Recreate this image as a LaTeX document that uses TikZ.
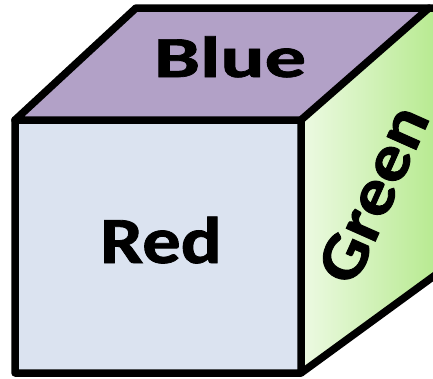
\documentclass[tikz,border=0pt]{standalone}
\usepackage{fontspec}
\setmainfont{Carlito}[BoldFeatures={FakeBold=1.2}]
\definecolor{topfill}{HTML}{B2A1C7}
\definecolor{frontfill}{HTML}{DBE3F0}
\definecolor{gleft}{HTML}{EDFAE3}
\definecolor{gright}{HTML}{B4E98B}
\tikzset{
  edge/.style={line width=7.5pt, line join=round, line cap=round, draw=black},
  facelabel/.style={font=\bfseries\fontsize{66}{70}\selectfont, inner sep=0pt}
}
\begin{document}
\begin{tikzpicture}[x=1pt,y=-1pt]
\useasboundingbox (0,0) rectangle (433,378);
\clip (0,0) rectangle (433,378);
% corners
\coordinate (FTL) at (15,120);
\coordinate (FTR) at (301,120);
\coordinate (FBR) at (301,373);
\coordinate (FBL) at (15,373);
\coordinate (BTL) at (136,8);
\coordinate (BTR) at (429,8);
\coordinate (BXR) at (445,8);
\coordinate (BBR) at (445,268);
% faces
\fill[topfill] (FTL) -- (BTL) -- (BTR) -- (FTR) -- cycle;
\fill[frontfill] (FTL) -- (FTR) -- (FBR) -- (FBL) -- cycle;
\shade[left color=gleft, right color=gright] (FTR) -- (BTR) -- (BXR) -- (BBR) -- (FBR) -- cycle;
% edges
\draw[edge] (FTR) -- (FTL) -- (BTL) -- (BTR) -- (BXR);
\draw[edge] (FTL) -- (FBL) -- (FBR) -- (FTR) -- (BTR);
\draw[edge] (FBR) -- (BBR);
% labels
\node[facelabel, anchor=base, xscale=1.16] (red) at (161,263) {Red};
\node[facelabel, anchor=base, xscale=1.42, font=\bfseries\fontsize{58}{62}\selectfont] (blue) at (230,77) {Blue};
\node[facelabel, rotate=66, xscale=1.12, font=\bfseries\fontsize{66}{70}\selectfont] (green) at (373,194) {Green};
\end{tikzpicture}
\end{document}
